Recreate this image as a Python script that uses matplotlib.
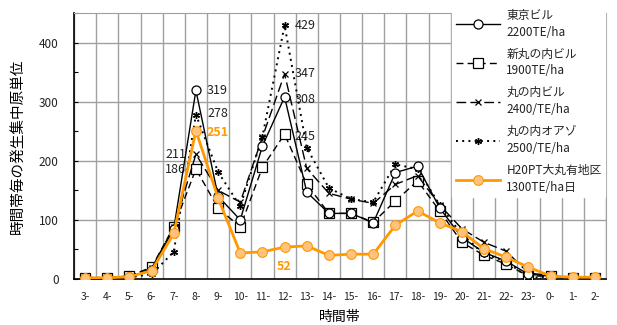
import numpy as np
import matplotlib
matplotlib.use('Agg')
import matplotlib.pyplot as plt

plt.rcParams['font.family'] = ['Noto Sans CJK JP', 'DejaVu Sans']

hours = ['3-', '4-', '5-', '6-', '7-', '8-', '9-', '10-', '11-', '12-', '13-', '14-',
         '15-', '16-', '17-', '18-', '19-', '20-', '21-', '22-', '23-', '0-', '1-', '2-']

tokyo = [2, 2, 4, 15, 85, 319, 140, 100, 225, 308, 147, 111, 111, 95, 180, 191,
         120, 70, 45, 30, 8, 5, 2, 2]
shin_maru = [2, 2, 5, 20, 88, 186, 120, 88, 189, 245, 160, 111, 111, 96, 132, 166,
             115, 62, 40, 25, 5, 5, 2, 2]
maru_bldg = [2, 2, 5, 18, 88, 211, 150, 130, 240, 347, 187, 145, 135, 128, 160, 175,
             125, 85, 62, 47, 10, 6, 2, 2]
oazo = [2, 2, 3, 8, 46, 278, 181, 123, 241, 429, 222, 154, 135, 130, 194, 186,
        125, 75, 42, 30, 2, 4, 2, 2]
area = [2, 2, 4, 14, 77, 251, 137, 44, 46, 54, 56, 40, 42, 42, 91, 115,
        95, 80, 51, 37, 20, 5, 3, 3]

labels = ['東京ビル\n2200TE/ha', '新丸の内ビル\n1900TE/ha', '丸の内ビル\n2400/TE/ha',
          '丸の内オアゾ\n2500/TE/ha', 'H20PT大丸有地区\n1300TE/ha日']

x = np.arange(len(hours))

fig = plt.figure(figsize=(6.17, 3.25), dpi=100)
ax = fig.add_axes([74/617, 1-279/325, 532/617, 266/325])

ax.plot(x, tokyo, color='black', lw=1, marker='o', ms=6.5, mfc='white', mec='black',
        mew=0.9, label=labels[0], zorder=5)
ax.plot(x, shin_maru, color='black', lw=1, dashes=(5, 3), marker='s', ms=6.5, mfc='white',
        mec='black', mew=0.9, label=labels[1], zorder=4)
ax.plot(x, maru_bldg, color='black', lw=1, dashes=(7, 3), marker='x', ms=5, mec='black',
        mew=0.9, label=labels[2], zorder=4)
ax.plot(x, oazo, color='black', lw=1.4, dashes=(1, 2.2), marker=(6, 2, 0), ms=5,
        mec='black', mew=1.0, label=labels[3], zorder=4)
ax.plot(x, area, color='#FF9900', lw=2, marker='o', ms=7, mfc='#FFC27F', mec='#FF9900',
        mew=0.8, label=labels[4], zorder=6)

ax.set_xlim(-0.5, len(hours) - 0.5)
ax.set_ylim(0, 450)
ax.set_xticks(x)
ax.set_xticklabels(hours, fontsize=7.5, color='#222222')
ax.set_xticks(np.arange(-0.5, len(hours), 1), minor=True)
ax.set_yticks(np.arange(0, 451, 50))
ax.set_yticklabels(['0', '', '100', '', '200', '', '300', '', '400', ''], fontsize=8.5,
                   color='#222222')
ax.tick_params(axis='x', which='both', length=0, pad=9)
ax.tick_params(axis='y', direction='in', length=3, pad=11, color='black')
ax.grid(False)
ax.xaxis.grid(True, which='minor', color='#a0a0a0', lw=1)
for v in [100, 200, 300, 400]:
    ax.axhline(v, color='#a0a0a0', lw=1, zorder=0.5)
ax.set_axisbelow(True)
ax.spines['top'].set_color('#a0a0a0')
ax.spines['right'].set_color('#a0a0a0')
ax.spines['left'].set_linewidth(1.2)
ax.spines['bottom'].set_linewidth(1.2)

ax.set_xlabel('時間帯', fontsize=10, labelpad=6)
ax.set_ylabel('時間帯毎の発生集中原単位', fontsize=10.5, labelpad=10)

k8 = hours.index('8-')
k12 = hours.index('12-')
lab = dict(fontsize=9, color='#222222', va='center', textcoords='offset points')
ax.annotate('319', (k8, tokyo[k8]), xytext=(8, 0), ha='left', **lab)
ax.annotate('278', (k8, oazo[k8]), xytext=(8, 1), ha='left', **lab)
ax.annotate('251', (k8, area[k8]), xytext=(8, -1), ha='left', fontsize=9,
            color='#FF9900', fontweight='bold', va='center', textcoords='offset points')
ax.annotate('211', (k8, maru_bldg[k8]), xytext=(-7, 0), ha='right', **lab)
ax.annotate('186', (k8, shin_maru[k8]), xytext=(-7, 0), ha='right', **lab)
ax.annotate('429', (k12, oazo[k12]), xytext=(7, 0), ha='left', **lab)
ax.annotate('347', (k12, maru_bldg[k12]), xytext=(7, 0), ha='left', **lab)
ax.annotate('308', (k12, tokyo[k12]), xytext=(7, -2), ha='left', **lab)
ax.annotate('245', (k12, shin_maru[k12]), xytext=(7, -2), ha='left', **lab)
ax.annotate('52', (k12, area[k12]), xytext=(0, -14), ha='center', fontsize=9,
            color='#FF9900', fontweight='bold', va='center', textcoords='offset points')

leg = ax.legend(loc='upper left', bbox_to_anchor=(452/617, 1-5/325),
                bbox_transform=fig.transFigure, fontsize=8.5, frameon=True,
                fancybox=False, borderaxespad=0, handlelength=3.8, handletextpad=0.5,
                labelspacing=0.75, borderpad=0.3)
for t in leg.get_texts():
    t.set_linespacing(1.4)
    t.set_color('#222222')
leg.get_frame().set_facecolor('white')
leg.get_frame().set_edgecolor('white')
leg.get_frame().set_alpha(1)
leg.set_zorder(10)

fig.savefig('out.png', dpi=100)
